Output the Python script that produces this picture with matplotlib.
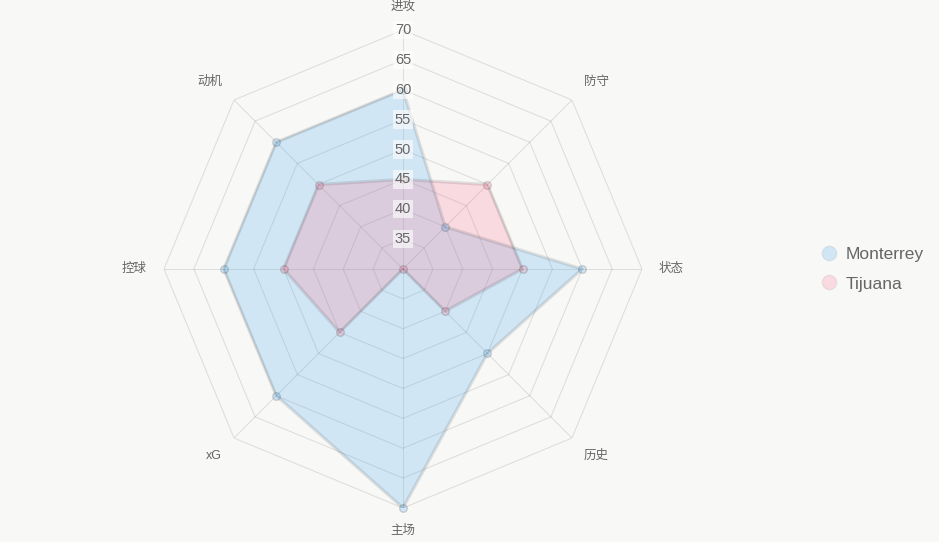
import numpy as np
import matplotlib
matplotlib.use('Agg')
import matplotlib.pyplot as plt
from matplotlib.lines import Line2D

plt.rcParams['font.family'] = ['Liberation Sans', 'Noto Sans CJK SC', 'DejaVu Sans']

# data
labels = ['进攻', '防守', '状态', '历史', '主场', 'xG', '控球', '动机']
monterrey = [60, 40, 60, 50, 70, 60, 60, 60]
tijuana = [45, 50, 50, 40, 30, 45, 50, 50]
ticks = [35, 40, 45, 50, 55, 60, 65, 70]
r_min, r_max = 30, 70

bg = '#f8f8f7'
grid_c = (0, 0, 0, 0.1)
text_c = '#666666'

fig = plt.figure(figsize=(9.39, 5.42), dpi=100, facecolor=bg)
ax = fig.add_axes([164 / 939, 34 / 542, 478 / 939, 478 / 542], projection='polar')
ax.set_facecolor('none')
ax.set_theta_offset(np.pi / 2)
ax.set_theta_direction(-1)
ax.set_ylim(r_min, r_max)
ax.grid(False)
ax.spines['polar'].set_visible(False)
ax.set_xticks([])
ax.set_yticks([])

n = len(labels)
theta = np.arange(n) * 2 * np.pi / n
theta_c = np.append(theta, theta[0])

# octagon grid
for t in ticks:
    ax.plot(theta_c, [t] * (n + 1), color=grid_c, lw=0.8, zorder=1)
for th in theta:
    ax.plot([th, th], [r_min, r_max], color=grid_c, lw=0.8, zorder=1)

# datasets
series = [('Monterrey', monterrey, (54 / 255, 162 / 255, 235 / 255, 0.2)),
          ('Tijuana', tijuana, (255 / 255, 99 / 255, 132 / 255, 0.2))]
handles = []
for name, vals, col in series:
    v = np.append(vals, vals[0])
    ax.fill(theta_c, v, color=col, zorder=2, lw=0)
    ax.plot(theta_c, v, color=(0, 0, 0, 0.1), lw=2.3, zorder=3)
    ax.scatter(theta, vals, s=30, color=col, edgecolors=(0, 0, 0, 0.15),
               linewidths=1, zorder=4, clip_on=False)
    handles.append(Line2D([], [], marker='o', ls='', markersize=10.5,
                          markerfacecolor=col, markeredgecolor=(0, 0, 0, 0.05),
                          label=name))

# tick labels
for t in ticks:
    ax.text(0, t, str(t), ha='center', va='center', fontsize=10.5, color=text_c,
            zorder=5, bbox=dict(boxstyle='square,pad=0.15', fc=(1, 1, 1, 0.6), ec='none'))

# axis labels (chart.js style alignment)
r_lab = r_min + 256 / 239 * (r_max - r_min)
for i, (th, lab) in enumerate(zip(theta, labels)):
    deg = i * 360 / n
    if deg in (0, 180):
        ha = 'center'
    elif deg < 180:
        ha = 'left'
    else:
        ha = 'right'
    if deg in (90, 270):
        va = 'center'
    elif deg < 90 or deg > 270:
        va = 'bottom'
    else:
        va = 'top'
    ax.text(th, r_lab, lab, ha=ha, va=va, fontsize=9, color=text_c)

fig.legend(handles=handles, loc='center left', bbox_to_anchor=(803 / 939, 1 - 269 / 542),
           frameon=False, fontsize=12.5, labelcolor=text_c, handletextpad=0.35,
           labelspacing=0.85, handlelength=1.2)

fig.savefig('out.png', dpi=100, facecolor=bg)
